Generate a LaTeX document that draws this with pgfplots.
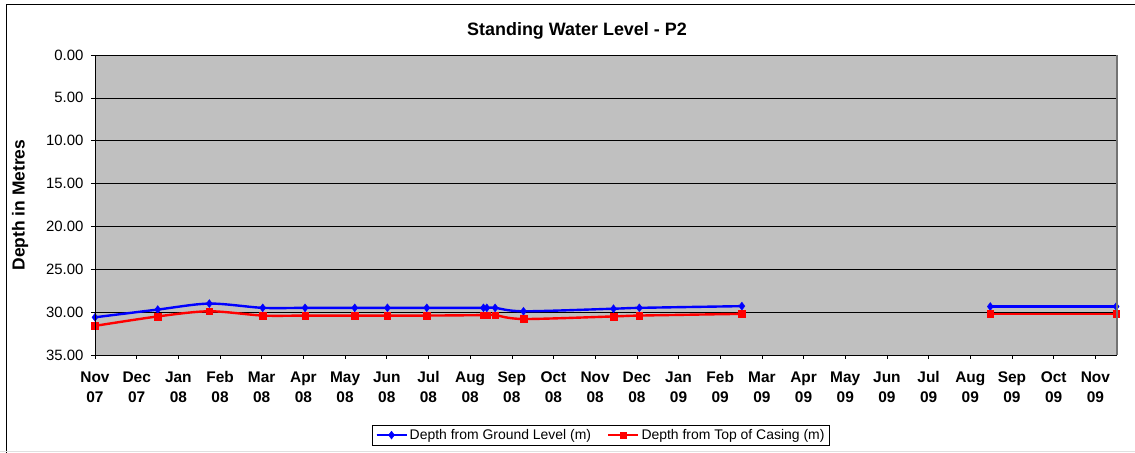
\documentclass[border=0pt]{standalone}
\usepackage{fontspec}
\setmainfont{Liberation Sans}
\usepackage{pgfplots}
\pgfplotsset{compat=1.18}
\definecolor{plotbg}{RGB}{192,192,192}
\definecolor{xblue}{RGB}{0,0,255}
\definecolor{xred}{RGB}{255,0,0}
\begin{document}
\begin{tikzpicture}[x=1bp,y=1bp]
\useasboundingbox (-95,-98) rectangle (1040,355);
\draw[black,line width=0.8bp] (-89,-98) -- (-89,351) -- (1040,351);
\draw[black!12,line width=0.8bp] (-95,-96.5) -- (1040,-96.5);
\begin{axis}[
  at={(0,0)}, anchor=south west,
  width=1022bp, height=300bp, scale only axis,
  xmin=0, xmax=24.52, ymin=0, ymax=35, y dir=reverse,
  axis background/.style={fill=plotbg},
  axis line style={draw=none},
  ytick={0,5,...,35},
  ymajorgrids, grid style={black, line width=0.6bp},
  /pgf/number format/fixed, /pgf/number format/fixed zerofill, /pgf/number format/precision=2, /pgf/number format/assume math mode=true,
  yticklabel style={font=\fontsize{15}{17}\selectfont, xshift=-4bp},
  xtick={0,...,24},
  xticklabels={Nov\\07,Dec\\07,Jan\\08,Feb\\08,Mar\\08,Apr\\08,May\\08,Jun\\08,Jul\\08,Aug\\08,Sep\\08,Oct\\08,Nov\\08,Dec\\08,Jan\\09,Feb\\09,Mar\\09,Apr\\09,May\\09,Jun\\09,Jul\\09,Aug\\09,Sep\\09,Oct\\09,Nov\\09},
  xticklabel style={font=\fontsize{15.5}{20}\selectfont\bfseries, align=center, yshift=-9bp},
  tick align=outside, tick pos=left,
  major tick length=4bp,
  tick style={black, line width=0.6bp},
  legend style={at={(0.495,-0.267)}, anchor=center, draw=black, fill=white,
    font=\fontsize{14}{16}\selectfont, legend columns=2,
    /tikz/every even column/.append style={column sep=14bp}},
  legend image code/.code={\draw[#1] (0bp,0bp) -- (15bp,0bp); \draw[#1, mark repeat=2, mark phase=2] plot coordinates {(0bp,0bp) (15bp,0bp) (30bp,0bp)}; \draw[#1] (15bp,0bp) -- (30bp,0bp);},
  clip=false,
]
\addplot[xblue, line width=2.4bp, smooth, tension=0.5, mark=diamond*, mark size=4bp, mark options={line width=0.4bp}] coordinates {
(0,30.6) (1.505,29.7) (2.743,29.0) (4.024,29.5) (5.04,29.5) (6.232,29.5) (7.015,29.5) (7.96,29.5) (9.32,29.5) (9.40,29.5) (9.60,29.5) (10.28,29.9) (12.44,29.6) (13.06,29.5) (15.52,29.3)
};
\addlegendentry{Depth from Ground Level (m)}
\addplot[xred, line width=2.4bp, smooth, tension=0.5, mark=square*, mark size=3.3bp, mark options={line width=0.4bp}] coordinates {
(0,31.6) (1.505,30.5) (2.743,29.9) (4.024,30.4) (5.04,30.4) (6.232,30.4) (7.015,30.4) (7.96,30.4) (9.32,30.35) (9.40,30.35) (9.60,30.35) (10.28,30.8) (12.44,30.5) (13.06,30.4) (15.52,30.2)
};
\addlegendentry{Depth from Top of Casing (m)}
\addplot[xblue, line width=2.4bp, mark=diamond*, mark size=4bp, mark options={line width=0.4bp}, forget plot] coordinates {(21.48,29.35) (24.5,29.35)};
\addplot[xred, line width=2.4bp, mark=square*, mark size=3.3bp, mark options={line width=0.4bp}, forget plot] coordinates {(21.48,30.2) (24.5,30.2)};
\end{axis}
\draw[black, line width=0.8bp] (0,0) -- (0,300);
\draw[black, line width=0.8bp] (0,0) -- (1022,0);
\draw[black!55, line width=1.2bp] (1022,0) -- (1022,300);
\node[font=\fontsize{18}{21}\selectfont\bfseries] at (482,324) {Standing Water Level - P2};
\node[font=\fontsize{17.5}{20}\selectfont\bfseries, rotate=90] at (-75,150) {Depth in Metres};
\end{tikzpicture}
\end{document}
